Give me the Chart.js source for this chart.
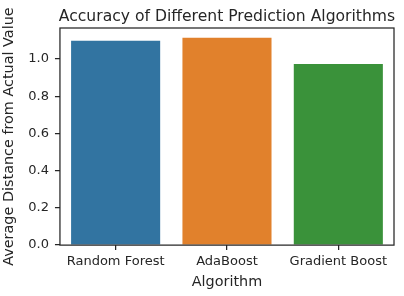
<!DOCTYPE html>
<html>
<head>
<meta charset="utf-8">
<script src="https://cdn.jsdelivr.net/npm/chart.js@4/dist/chart.umd.min.js"></script>
<style>
  html, body { margin: 0; padding: 0; background: #fff; }
  #wrap { width: 404px; height: 296px; }
</style>
</head>
<body>
<div id="wrap"><canvas id="wykres"></canvas></div>
<script>
const algorithms = ['Random Forest', 'AdaBoost', 'Gradient Boost'];
const avgDistance = [1.097, 1.113, 0.973];
const barColors = ['#3274a1', '#e1812c', '#3a923a'];
const yTicks = [0.0, 0.2, 0.4, 0.6, 0.8, 1.0];
const chartTitle = 'Accuracy of Different Prediction Algorithms';

const ink = '#262626';

// ramka wokol obszaru wykresu + tytul wysrodkowany nad obszarem
const frame = {
    id: 'frame',
    afterDraw(chart) {
        const a = chart.chartArea, c = chart.ctx;
        c.save();
        c.strokeStyle = ink;
        c.lineWidth = 1.25;
        c.strokeRect(a.left, a.top, a.right - a.left, a.bottom - a.top);
        c.fillStyle = ink;
        c.font = '15.6px "DejaVu Sans"';
        c.textAlign = 'center';
        c.textBaseline = 'middle';
        c.fillText(chartTitle, (a.left + a.right) / 2, 17);
        c.restore();
    }
};

document.addEventListener("DOMContentLoaded", function() {
    const ctx = document.getElementById('wykres').getContext('2d');
    new Chart(ctx, {
        type: 'bar',
        data: {
            labels: algorithms,
            datasets: [{
                data: avgDistance,
                backgroundColor: barColors,
                borderWidth: 0,
                categoryPercentage: 1.0,
                barPercentage: 0.8
            }]
        },
        options: {
            responsive: true,
            maintainAspectRatio: false,
            animation: false,
            layout: { padding: { top: 28, right: 10, left: 1, bottom: 5 } },
            plugins: {
                legend: { display: false },
                tooltip: { enabled: false },
                title: { display: false }
            },
            scales: {
                x: {
                    grid: { display: true, offset: false, drawOnChartArea: false, drawTicks: true, tickLength: 5, color: ink, lineWidth: 1.25 },
                    border: { display: false },
                    ticks: { color: ink, font: { family: 'DejaVu Sans', size: 13 }, padding: 4 },
                    title: {
                        display: true,
                        text: 'Algorithm',
                        color: ink,
                        font: { family: 'DejaVu Sans', size: 14.4 },
                        padding: { top: 0, bottom: 0 }
                    }
                },
                y: {
                    min: 0,
                    max: 1.166,
                    afterBuildTicks: function(axis) {
                        axis.ticks = yTicks.map(v => ({ value: v }));
                    },
                    grid: { display: true, drawOnChartArea: false, drawTicks: true, tickLength: 5, color: ink, lineWidth: 1.25 },
                    border: { display: false },
                    ticks: {
                        color: ink,
                        font: { family: 'DejaVu Sans', size: 13 },
                        padding: 6,
                        callback: v => Number(v).toFixed(1)
                    },
                    title: {
                        display: true,
                        text: 'Average Distance from Actual Value',
                        color: ink,
                        font: { family: 'DejaVu Sans', size: 14.4 },
                        padding: { top: 0, bottom: 4 }
                    }
                }
            }
        },
        plugins: [frame]
    });
});
</script>
</body>
</html>
